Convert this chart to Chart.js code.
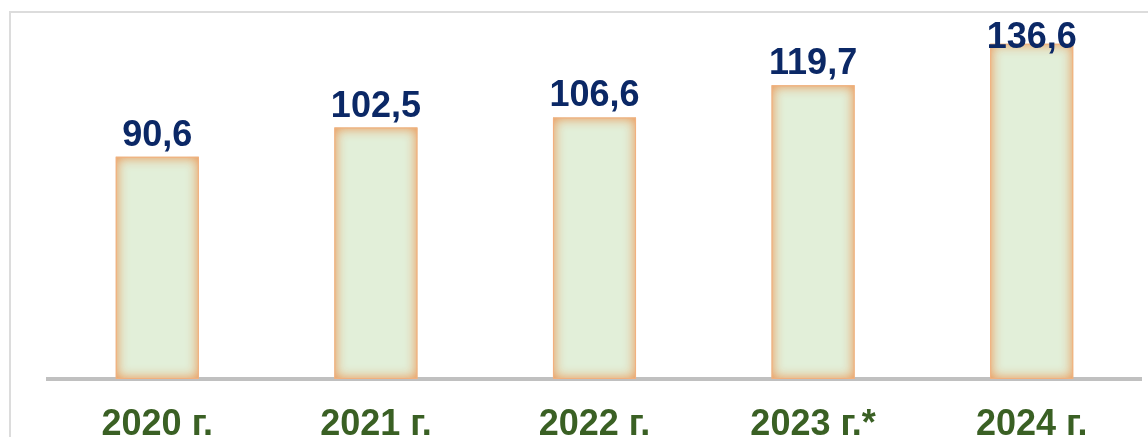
<!DOCTYPE html>
<html>
<head>
<meta charset="utf-8">
<script src="https://cdn.jsdelivr.net/npm/chart.js@4/dist/chart.umd.min.js"></script>
<style>
  html, body { margin: 0; padding: 0; background: #ffffff; }
  #wrap { position: relative; width: 1148px; height: 437px; overflow: hidden; }
  #frame { position: absolute; left: 9px; top: 11px; width: 1200px; height: 500px;
           border-top: 2px solid #dcdcdc; border-left: 2px solid #dcdcdc; }
  canvas { position: absolute; left: 0; top: 0; }
</style>
</head>
<body>
<div id="wrap">
  <div id="frame"></div>
  <canvas id="c" width="1148" height="437"></canvas>
</div>
<script>
const categories = ['2020 г.', '2021 г.', '2022 г.', '2023 г.*', '2024 г.'];
const values = [90.6, 102.5, 106.6, 119.7, 136.6];

const glowPlugin = {
  id: 'glow',
  afterDatasetsDraw(chart) {
    const ctx = chart.ctx;
    const meta = chart.getDatasetMeta(0);
    meta.data.forEach(bar => {
      const p = bar.getProps(['x', 'y', 'base', 'width'], true);
      const l = p.x - p.width / 2, t = Math.min(p.y, p.base), w = p.width, h = Math.abs(p.base - p.y);
      ctx.save();
      ctx.beginPath();
      ctx.rect(l, t, w, h);
      ctx.clip();
      ctx.shadowColor = 'rgba(236,140,70,0.95)';
      ctx.shadowBlur = 12;
      ctx.lineWidth = 12;
      ctx.strokeStyle = '#f2b07e';
      ctx.strokeRect(l - 5, t - 5, w + 10, h + 10);
      ctx.restore();
    });
  }
};

const labelPlugin = {
  id: 'valueLabels',
  afterDatasetsDraw(chart) {
    const ctx = chart.ctx;
    const meta = chart.getDatasetMeta(0);
    ctx.save();
    ctx.font = 'bold 36px "Liberation Sans", Arial, sans-serif';
    ctx.fillStyle = '#0b2866';
    ctx.textAlign = 'center';
    ctx.textBaseline = 'alphabetic';
    meta.data.forEach((bar, i) => {
      const txt = values[i].toFixed(1).replace('.', ',');
      const y = Math.max(bar.y - 11, 48);
      ctx.fillText(txt, bar.x, y);
    });
    ctx.restore();
  }
};

new Chart(document.getElementById('c'), {
  type: 'bar',
  data: {
    labels: categories,
    datasets: [{
      data: values,
      backgroundColor: '#e2efd9',
      borderWidth: 0,
      barPercentage: 0.38,
      categoryPercentage: 1.0
    }]
  },
  options: {
    responsive: false,
    animation: false,
    layout: { padding: { left: 48, right: 7, top: 11, bottom: -34 } },
    plugins: { legend: { display: false }, tooltip: { enabled: false } },
    scales: {
      y: { display: false, min: 0, max: 150 },
      x: {
        grid: { display: false, drawTicks: false, tickLength: 0 },
        border: { display: true, color: '#c0c0c0', width: 4 },
        ticks: {
          color: '#3a6024',
          padding: 28,
          font: { family: '"Liberation Sans", Arial, sans-serif', size: 36, weight: 'bold', lineHeight: 1 },
          maxRotation: 0
        }
      }
    }
  },
  plugins: [glowPlugin, labelPlugin]
});
</script>
</body>
</html>
